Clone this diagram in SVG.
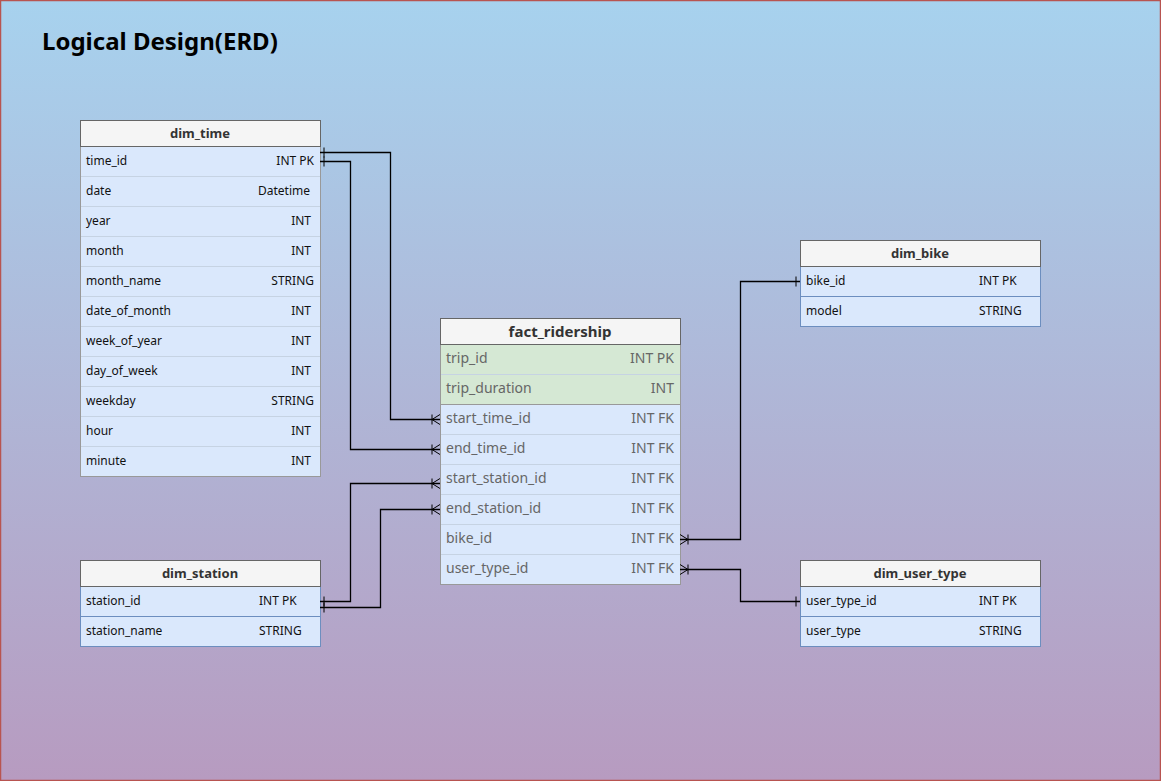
<svg xmlns="http://www.w3.org/2000/svg" width="1161" height="781" viewBox="0 0 1161 781">
<defs>
<linearGradient id="bg" x1="0" y1="0" x2="0" y2="1">
<stop offset="0" stop-color="#a7d2ee"/>
<stop offset="1" stop-color="#b79bc0"/>
</linearGradient>
<marker id="one" markerWidth="12" markerHeight="14" refX="0" refY="7" orient="auto" markerUnits="userSpaceOnUse">
<path d="M4,2 V12" stroke="#000" stroke-width="1" fill="none"/>
</marker>
<marker id="many" markerWidth="12" markerHeight="14" refX="10" refY="7" orient="auto" markerUnits="userSpaceOnUse">
<path d="M2,2 V12 M2,7 L10,2 M2,7 L10,12 M2,7 H10" stroke="#000" stroke-width="1" fill="none"/>
</marker>
</defs>
<style>
text{font-family:"Comic Sans MS","Noto Sans",sans-serif}
.title{font-size:24px;font-weight:bold;fill:#000}
.hdr{fill:#f5f5f5;stroke:#666;stroke-width:1}
.hname{font-size:13px;font-weight:bold;fill:#333;text-anchor:middle}
.fname{font-size:15px;font-weight:bold;fill:#333;text-anchor:middle}
.rowb{fill:#dae8fc;stroke:#6c8ebf;stroke-width:1}
.rowg{fill:#dae8fc;stroke:#999;stroke-width:1}
.rowgreen{fill:#d5e8d4;stroke:#999;stroke-width:1}
.sep{stroke:#c6d3e3;stroke-width:1}
.sepb{stroke:#6c8ebf;stroke-width:1}
.t{font-size:12px;fill:#111}
.r{font-size:12px;fill:#111;text-anchor:end}
.ft{font-size:14px;fill:#666}
.fr{font-size:14px;fill:#666;text-anchor:end}
.edge{fill:none;stroke:#000;stroke-width:1.3}
</style>
<rect x="0.5" y="0.5" width="1160" height="780" fill="url(#bg)" stroke="#b85450" stroke-width="1.5"/>
<text class="title" x="42" y="50">Logical Design(ERD)</text>

<g id="dim_time">
<rect class="rowg" x="80.5" y="146.5" width="240" height="330"/>
<g class="sep">
<line x1="81" y1="176.5" x2="320" y2="176.5"/><line x1="81" y1="206.5" x2="320" y2="206.5"/>
<line x1="81" y1="236.5" x2="320" y2="236.5"/><line x1="81" y1="266.5" x2="320" y2="266.5"/>
<line x1="81" y1="296.5" x2="320" y2="296.5"/><line x1="81" y1="326.5" x2="320" y2="326.5"/>
<line x1="81" y1="356.5" x2="320" y2="356.5"/><line x1="81" y1="386.5" x2="320" y2="386.5"/>
<line x1="81" y1="416.5" x2="320" y2="416.5"/><line x1="81" y1="446.5" x2="320" y2="446.5"/>
</g>
<rect class="hdr" x="80.5" y="120.5" width="240" height="26"/>
<text class="hname" x="200" y="138">dim_time</text>
<text class="t" x="86" y="165">time_id</text><text class="r" x="314" y="165">INT PK</text>
<text class="t" x="86" y="195">date</text><text class="r" x="310" y="195">Datetime</text>
<text class="t" x="86" y="225">year</text><text class="r" x="311" y="225">INT</text>
<text class="t" x="86" y="255">month</text><text class="r" x="311" y="255">INT</text>
<text class="t" x="86" y="285">month_name</text><text class="r" x="314" y="285">STRING</text>
<text class="t" x="86" y="315">date_of_month</text><text class="r" x="311" y="315">INT</text>
<text class="t" x="86" y="345">week_of_year</text><text class="r" x="311" y="345">INT</text>
<text class="t" x="86" y="375">day_of_week</text><text class="r" x="311" y="375">INT</text>
<text class="t" x="86" y="405">weekday</text><text class="r" x="314" y="405">STRING</text>
<text class="t" x="86" y="435">hour</text><text class="r" x="311" y="435">INT</text>
<text class="t" x="86" y="465">minute</text><text class="r" x="311" y="465">INT</text>
</g>

<g id="fact_ridership">
<rect class="rowg" x="440.5" y="344.5" width="240" height="240"/>
<rect class="rowgreen" x="440.5" y="344.5" width="240" height="60"/>
<g class="sep">
<line x1="441" y1="374.5" x2="680" y2="374.5"/>
<line x1="441" y1="434.5" x2="680" y2="434.5"/><line x1="441" y1="464.5" x2="680" y2="464.5"/>
<line x1="441" y1="494.5" x2="680" y2="494.5"/><line x1="441" y1="524.5" x2="680" y2="524.5"/>
<line x1="441" y1="554.5" x2="680" y2="554.5"/>
</g>
<rect class="hdr" x="440.5" y="318.5" width="240" height="26"/>
<text class="fname" x="560" y="337">fact_ridership</text>
<text class="ft" x="446" y="363">trip_id</text><text class="fr" x="674" y="363">INT PK</text>
<text class="ft" x="446" y="393">trip_duration</text><text class="fr" x="674" y="393">INT</text>
<text class="ft" x="446" y="423">start_time_id</text><text class="fr" x="674" y="423">INT FK</text>
<text class="ft" x="446" y="453">end_time_id</text><text class="fr" x="674" y="453">INT FK</text>
<text class="ft" x="446" y="483">start_station_id</text><text class="fr" x="674" y="483">INT FK</text>
<text class="ft" x="446" y="513">end_station_id</text><text class="fr" x="674" y="513">INT FK</text>
<text class="ft" x="446" y="543">bike_id</text><text class="fr" x="674" y="543">INT FK</text>
<text class="ft" x="446" y="573">user_type_id</text><text class="fr" x="674" y="573">INT FK</text>
</g>

<g id="dim_bike">
<rect class="rowb" x="800.5" y="266.5" width="240" height="60"/>
<line class="sepb" x1="801" y1="296.5" x2="1040" y2="296.5"/>
<rect class="hdr" x="800.5" y="240.5" width="240" height="26"/>
<text class="hname" x="920" y="258">dim_bike</text>
<text class="t" x="806" y="285">bike_id</text><text class="t" x="979" y="285">INT PK</text>
<text class="t" x="806" y="315">model</text><text class="t" x="979" y="315">STRING</text>
</g>

<g id="dim_station">
<rect class="rowb" x="80.5" y="586.5" width="240" height="60"/>
<line class="sepb" x1="81" y1="616.5" x2="320" y2="616.5"/>
<rect class="hdr" x="80.5" y="560.5" width="240" height="26"/>
<text class="hname" x="200" y="578">dim_station</text>
<text class="t" x="86" y="605">station_id</text><text class="t" x="259" y="605">INT PK</text>
<text class="t" x="86" y="635">station_name</text><text class="t" x="259" y="635">STRING</text>
</g>

<g id="dim_user_type">
<rect class="rowb" x="800.5" y="586.5" width="240" height="60"/>
<line class="sepb" x1="801" y1="616.5" x2="1040" y2="616.5"/>
<rect class="hdr" x="800.5" y="560.5" width="240" height="26"/>
<text class="hname" x="920" y="578">dim_user_type</text>
<text class="t" x="806" y="605">user_type_id</text><text class="t" x="979" y="605">INT PK</text>
<text class="t" x="806" y="635">user_type</text><text class="t" x="979" y="635">STRING</text>
</g>

<g id="connectors">
<path class="edge" d="M320,152.5 H390.5 V419.5 H440" marker-start="url(#one)" marker-end="url(#many)"/>
<path class="edge" d="M320,161.5 H350.5 V449.5 H440" marker-start="url(#one)" marker-end="url(#many)"/>
<path class="edge" d="M320,601.5 H350.5 V483.5 H440" marker-start="url(#one)" marker-end="url(#many)"/>
<path class="edge" d="M320,607.5 H380.5 V509.5 H440" marker-start="url(#one)" marker-end="url(#many)"/>
<path class="edge" d="M800,281.5 H740.5 V539.5 H680" marker-start="url(#one)" marker-end="url(#many)"/>
<path class="edge" d="M800,601.5 H740.5 V569.5 H680" marker-start="url(#one)" marker-end="url(#many)"/>
</g>
</svg>
